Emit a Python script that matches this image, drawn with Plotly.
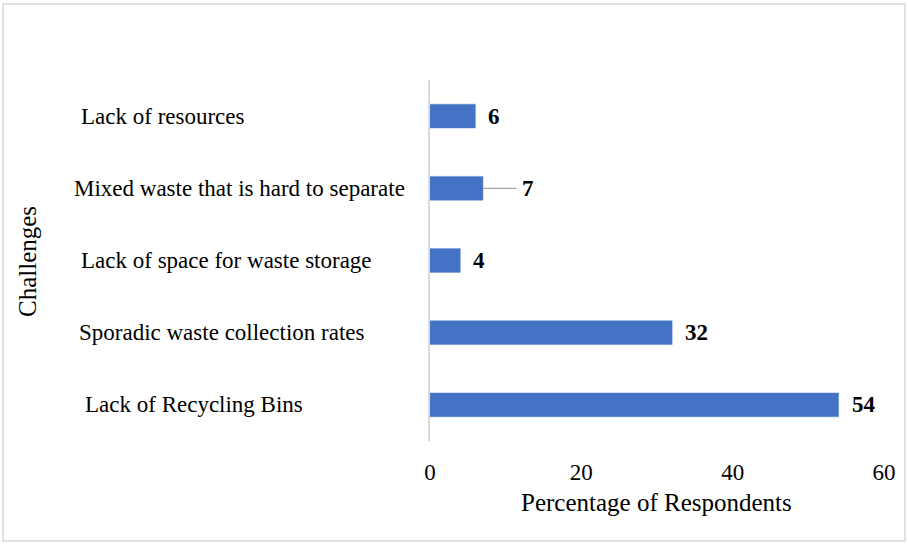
import plotly.graph_objects as go

# Survey results: challenges faced in waste management
challenges = [
    "Lack of Recycling Bins",
    "Sporadic waste collection rates",
    "Lack of space for waste storage",
    "Mixed waste that is hard to separate",
    "Lack of resources",
]
percent = [54, 32, 4, 7, 6]

x_ticks = [0, 20, 40, 60]

W, H = 908, 547
L, R, T, B = 430, 24, 80, 106
PW, PH = W - L - R, H - T - B

FONT = "Liberation Serif"
BAR = "#4472C4"


def px_to_paper_x(px):
    return (px - L) / PW


def px_to_paper_y(py):
    return (H - B - py) / PH


fig = go.Figure(
    go.Bar(
        x=percent,
        y=challenges,
        orientation="h",
        marker=dict(color=BAR, line=dict(color="#5B86D0", width=0.5)),
        width=0.33,
        hoverinfo="x+y",
    )
)

annotations = []

# Category names, set left-aligned in the left margin
label_left = {
    "Lack of Recycling Bins": 83,
    "Sporadic waste collection rates": 77,
    "Lack of space for waste storage": 79,
    "Mixed waste that is hard to separate": 72,
    "Lack of resources": 79,
}
for name in challenges:
    annotations.append(dict(
        x=px_to_paper_x(label_left[name]), xref="paper",
        y=name, yref="y",
        text=name, showarrow=False,
        xanchor="left", yanchor="middle",
        font=dict(family=FONT, size=23, color="#000000"),
    ))

# Value labels at the bar ends
for name, v in zip(challenges, percent):
    if name == "Mixed waste that is hard to separate":
        annotations.append(dict(
            x=v, y=name, xref="x", yref="y",
            text=f"<b>{v}</b>", showarrow=True,
            ax=45, ay=0, arrowhead=0, arrowwidth=1.3,
            arrowcolor="#A6A6A6", standoff=0, startstandoff=4,
            font=dict(family=FONT, size=23, color="#000000"),
        ))
    else:
        annotations.append(dict(
            x=v, y=name, xref="x", yref="y",
            text=f"<b>{v}</b>", showarrow=False,
            xanchor="left", yanchor="middle", xshift=11,
            font=dict(family=FONT, size=23, color="#000000"),
        ))

# Axis titles
annotations.append(dict(
    x=px_to_paper_x(27), y=px_to_paper_y(262), xref="paper", yref="paper",
    text="Challenges", showarrow=False, textangle=-90,
    xanchor="center", yanchor="middle",
    font=dict(family=FONT, size=25, color="#000000"),
))
annotations.append(dict(
    x=px_to_paper_x(656), y=px_to_paper_y(503), xref="paper", yref="paper",
    text="Percentage of Respondents", showarrow=False,
    xanchor="center", yanchor="middle",
    font=dict(family=FONT, size=25, color="#000000"),
))

fig.update_layout(
    width=W, height=H,
    margin=dict(l=L, r=R, t=T, b=B),
    paper_bgcolor="white",
    plot_bgcolor="white",
    showlegend=False,
    annotations=annotations,
    shapes=[dict(
        type="rect", xref="paper", yref="paper",
        x0=px_to_paper_x(3), x1=px_to_paper_x(905),
        y0=px_to_paper_y(541), y1=px_to_paper_y(4),
        line=dict(color="#D9D9D9", width=1.5),
        fillcolor="rgba(0,0,0,0)", layer="below",
    )],
    xaxis=dict(
        range=[0, 60], tickvals=x_ticks,
        showgrid=False, zeroline=False, showline=False,
        ticks="", ticklabelstandoff=15,
        tickfont=dict(family=FONT, size=23, color="#000000"),
        fixedrange=True,
    ),
    yaxis=dict(
        categoryorder="array", categoryarray=challenges,
        range=[-0.5, 4.5],
        showticklabels=False, showgrid=False, zeroline=False,
        showline=True, linecolor="#D9D9D9", linewidth=2,
        ticks="", fixedrange=True,
    ),
)

fig.write_html("out.html")
